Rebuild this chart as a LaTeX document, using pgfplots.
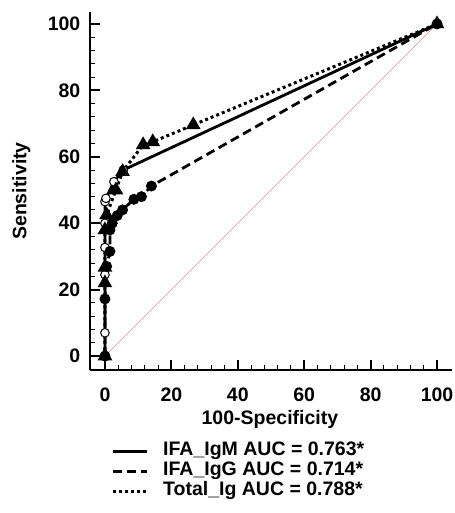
\documentclass[border=0pt]{standalone}
\usepackage{fontspec}
\setmainfont{Liberation Sans}
\usepackage{pgfplots}
\pgfplotsset{compat=1.18}
\definecolor{diag}{RGB}{232,140,130}

\begin{document}
\fontsize{19.5bp}{23bp}\selectfont\bfseries
\begin{tikzpicture}
\path[use as bounding box] (-90bp,-143bp) rectangle (365bp,370bp);
\begin{axis}[
  at={(0,0)}, anchor=south west,
  scale only axis, width=362bp, height=358bp,
  xmin=-4.5, xmax=104.5, ymin=-4.2, ymax=103.6,
  axis x line=bottom, axis y line=left,
  axis line style={-, line width=2.2bp},
  xtick={0,20,...,100}, ytick={0,20,...,100},
  minor tick num=4,
  tick align=inside,
  major tick length=10bp, minor tick length=5bp,
  every major tick/.style={black, line width=2bp},
  every minor tick/.style={black, line width=1.1bp},
  /pgf/number format/assume math mode=true,
  ticklabel style={font=\fontsize{19.5bp}{23bp}\selectfont\bfseries},
  xticklabel style={yshift=-11bp},
  yticklabel style={xshift=-3bp},
  xlabel={100-Specificity}, ylabel={Sensitivity},
  every axis x label/.style={at={(axis description cs:0.497,-0.152)}, anchor=base},
  every axis y label/.style={at={(axis description cs:-0.176,0.5)}, rotate=90, anchor=base},
  legend style={at={(axis description cs:0.058,-0.198)}, anchor=north west,
    draw=none, fill=none, inner sep=0pt,
    nodes={inner sep=0pt, text height=14bp, text depth=6bp},
    /tikz/every odd column/.append style={column sep=15bp}},
  legend cell align=left,
  legend image code/.code={\draw[#1, mark=none, line width=3bp] (0bp,0bp) -- (34bp,0bp);},
]
\addplot[diag, line width=0.6bp, forget plot] coordinates {(0,0) (100,100)};

\addplot[black, line width=2.8bp, mark=*, mark size=4.3bp,
  mark options={solid, fill=white, draw=black, line width=1bp}] coordinates {
  (0,0) (0,7) (0,24.5) (0,32.7) (0,40) (0,46.5) (0.3,47.5) (2.7,52.5) (5.5,56) (100,100)
};
\addlegendentry{IFA\_IgM AUC = 0.763*}

\addplot[black, line width=2.8bp, dash pattern=on 9bp off 5bp, mark=*, mark size=4bp,
  mark options={solid, fill=black}] coordinates {
  (0,0) (0,17.2) (0.5,27) (1.5,31.5) (1.5,38) (2.2,40) (3.7,42.3) (5.3,44)
  (8.7,47.2) (11,48) (14,51.2) (100,100)
};
\addlegendentry{IFA\_IgG AUC = 0.714*}

\addplot[black, line width=3bp, dash pattern=on 3bp off 3bp, mark=triangle*, mark size=5.5bp,
  mark options={solid, fill=black}] coordinates {
  (0,0) (0,22) (0,26.7) (0,38) (0.5,42.5) (3.3,50) (5.3,55.5) (11.5,63.6)
  (14.4,64.5) (26.6,69.6) (100,100)
};
\addlegendentry{Total\_Ig AUC = 0.788*}
\end{axis}
\end{tikzpicture}
\end{document}
